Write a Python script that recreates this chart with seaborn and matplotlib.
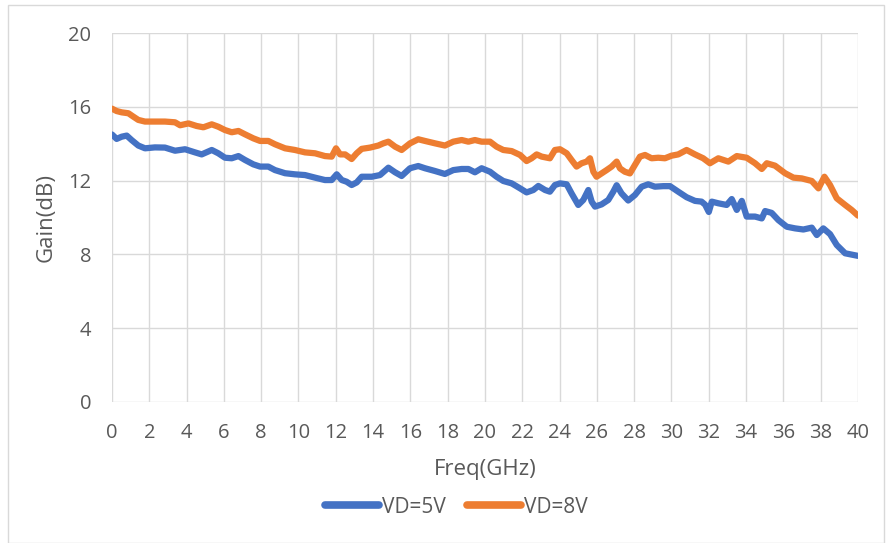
import matplotlib
matplotlib.use("Agg")
import matplotlib.pyplot as plt
import seaborn as sns
import pandas as pd
from matplotlib.patches import Rectangle
from matplotlib.lines import Line2D

freq_5v = [0.0, 0.25, 0.52, 0.79, 1.05, 1.41, 1.77, 2.3, 2.84, 3.38, 3.92, 4.45, 4.81, 5.35, 5.7,
           6.06, 6.42, 6.78, 7.13, 7.58, 7.94, 8.38, 8.74, 9.28, 9.81, 10.35, 10.89, 11.42, 11.78,
           12.05, 12.32, 12.58, 12.85, 13.12, 13.39, 13.93, 14.37, 14.82, 15.18, 15.53, 15.98,
           16.42, 16.78, 17.32, 17.85, 18.3, 18.75, 19.11, 19.46, 19.82, 20.27, 20.62, 20.98,
           21.43, 21.88, 22.23, 22.59, 22.86, 23.22, 23.48, 23.75, 24.02, 24.38, 24.64, 25.0,
           25.27, 25.54, 25.72, 25.9, 26.25, 26.61, 26.88, 27.06, 27.32, 27.68, 28.04, 28.4,
           28.75, 29.11, 29.56, 29.92, 30.36, 30.81, 31.26, 31.61, 31.8, 32.0, 32.16, 32.51,
           32.96, 33.23, 33.5, 33.77, 34.03, 34.48, 34.84, 35.02, 35.37, 35.73, 36.18, 36.63,
           37.07, 37.52, 37.79, 38.14, 38.5, 38.86, 39.31, 39.75, 40.0]
gain_5v = [14.5, 14.26, 14.38, 14.44, 14.2, 13.9, 13.75, 13.8, 13.79, 13.62, 13.7, 13.53, 13.42,
           13.66, 13.48, 13.24, 13.21, 13.33, 13.12, 12.88, 12.76, 12.76, 12.57, 12.4, 12.34,
           12.3, 12.16, 12.03, 12.03, 12.34, 12.03, 11.94, 11.76, 11.9, 12.21, 12.21, 12.3,
           12.7, 12.45, 12.25, 12.67, 12.79, 12.67, 12.52, 12.36, 12.57, 12.63, 12.63, 12.45,
           12.67, 12.48, 12.21, 11.98, 11.85, 11.58, 11.36, 11.49, 11.71, 11.49, 11.4, 11.76,
           11.85, 11.8, 11.31, 10.68, 10.95, 11.49, 10.86, 10.59, 10.71, 10.95, 11.4, 11.75,
           11.31, 10.92, 11.22, 11.67, 11.8, 11.67, 11.7, 11.7, 11.4, 11.1, 10.9, 10.86, 10.7,
           10.3, 10.86, 10.77, 10.68, 11.0, 10.41, 10.9, 10.05, 10.05, 9.95, 10.35, 10.25, 9.86,
           9.5, 9.41, 9.35, 9.45, 9.05, 9.41, 9.1, 8.51, 8.06, 7.97, 7.92]

freq_8v = [0.0, 0.25, 0.52, 0.88, 1.14, 1.41, 1.77, 2.3, 2.84, 3.38, 3.65, 4.1, 4.54, 4.9, 5.35,
           5.7, 6.06, 6.42, 6.78, 7.13, 7.58, 7.94, 8.38, 8.74, 9.28, 9.81, 10.35, 10.89, 11.42,
           11.78, 12.01, 12.23, 12.5, 12.85, 13.12, 13.39, 13.84, 14.28, 14.55, 14.82, 15.18,
           15.53, 15.98, 16.42, 16.78, 17.32, 17.85, 18.3, 18.75, 19.11, 19.46, 19.82, 20.27,
           20.62, 20.98, 21.43, 21.88, 22.23, 22.5, 22.77, 23.04, 23.48, 23.75, 24.02, 24.38,
           24.64, 24.91, 25.18, 25.45, 25.63, 25.81, 25.98, 26.25, 26.52, 26.79, 27.06, 27.24,
           27.5, 27.77, 28.04, 28.31, 28.58, 28.93, 29.29, 29.65, 30.0, 30.36, 30.81, 31.26,
           31.7, 32.06, 32.51, 33.05, 33.5, 34.03, 34.48, 34.84, 35.11, 35.55, 36.09, 36.54,
           36.98, 37.52, 37.88, 38.2, 38.5, 38.86, 39.31, 39.66, 40.0]
gain_8v = [15.9, 15.77, 15.7, 15.65, 15.47, 15.29, 15.2, 15.2, 15.2, 15.16, 15.0, 15.1, 14.96,
           14.89, 15.05, 14.92, 14.74, 14.62, 14.69, 14.51, 14.29, 14.15, 14.15, 13.97, 13.75,
           13.66, 13.53, 13.48, 13.33, 13.3, 13.75, 13.42, 13.42, 13.17, 13.48, 13.72, 13.79,
           13.9, 14.02, 14.11, 13.84, 13.66, 14.02, 14.24, 14.15, 14.02, 13.9, 14.11, 14.2,
           14.11, 14.2, 14.11, 14.11, 13.84, 13.66, 13.6, 13.39, 13.06, 13.21, 13.42, 13.3,
           13.21, 13.66, 13.7, 13.48, 13.12, 12.76, 12.94, 13.03, 13.21, 12.48, 12.21, 12.39,
           12.57, 12.76, 13.03, 12.66, 12.48, 12.39, 12.85, 13.3, 13.39, 13.21, 13.24, 13.21,
           13.35, 13.42, 13.66, 13.42, 13.21, 12.94, 13.21, 13.03, 13.33, 13.24, 12.94, 12.63,
           12.94, 12.81, 12.4, 12.16, 12.12, 11.98, 11.58, 12.21, 11.76, 11.04, 10.68, 10.41, 10.1]

series_names = ["VD=5V", "VD=8V"]
x_ticks = list(range(0, 41, 2))
y_ticks = list(range(0, 21, 4))

df = pd.concat([
    pd.DataFrame({"Freq": freq_5v, "Gain": gain_5v, "Series": series_names[0]}),
    pd.DataFrame({"Freq": freq_8v, "Gain": gain_8v, "Series": series_names[1]}),
])

sns.set_theme(style="white")
plt.rcParams["font.family"] = ["Open Sans", "DejaVu Sans"]

fig = plt.figure(figsize=(8.86, 5.43), dpi=100)
ax = fig.add_axes([0.1264, 0.2597, 0.8420, 0.6795])

sns.lineplot(data=df, x="Freq", y="Gain", hue="Series",
             palette={"VD=5V": "#4472C4", "VD=8V": "#ED7D31"},
             linewidth=4.5, sort=False, estimator=None, ax=ax, legend=False)

ax.set_xlim(0, 40)
ax.set_ylim(0, 20)
ax.set_xticks(x_ticks)
ax.set_yticks(y_ticks)
ax.grid(True, color="#d9d9d9", linewidth=1)
ax.set_axisbelow(True)
for s in ax.spines.values():
    s.set_visible(False)
ax.tick_params(axis="both", length=0, labelsize=14.5, labelcolor="#595959")
ax.tick_params(axis="x", pad=15)
ax.tick_params(axis="y", pad=15)
ax.set_xlabel("Freq(GHz)", fontsize=16, color="#595959", labelpad=12)
ax.set_ylabel("Gain(dB)", fontsize=16, color="#595959", labelpad=8)

handles = [Line2D([], [], color="#4472C4", lw=5.5, solid_capstyle="round"),
           Line2D([], [], color="#ED7D31", lw=5.5, solid_capstyle="round")]
leg = fig.legend(handles, series_names, loc="center", bbox_to_anchor=(0.515, 0.066),
                 ncol=2, frameon=False, fontsize=15, handlelength=2.6,
                 handletextpad=0.15, columnspacing=1.0, labelcolor="#595959")

fig.patches.append(Rectangle((8 / 886, 0.0), 876 / 886, 1 - 5 / 543, transform=fig.transFigure,
                             fill=False, edgecolor="#d9d9d9", linewidth=1))

fig.savefig("out.png", dpi=100)
